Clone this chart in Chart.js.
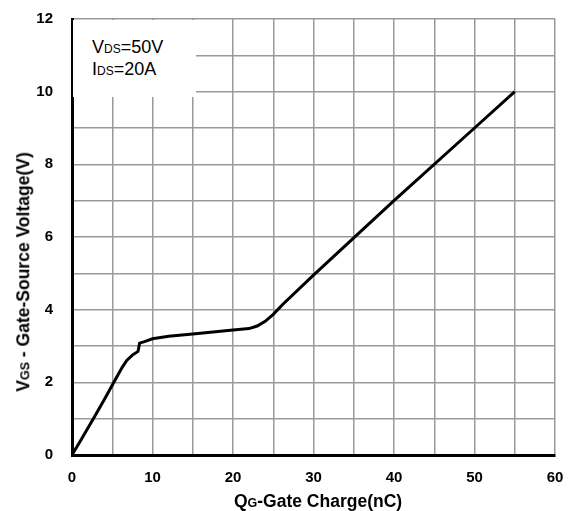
<!DOCTYPE html>
<html>
<head>
<meta charset="utf-8">
<script src="https://cdn.jsdelivr.net/npm/chart.js@4.4.1/dist/chart.umd.min.js"></script>
<style>
  body { margin: 0; background: #fff; }
  #wrap { position: relative; width: 569px; height: 511px; font-family: "Liberation Sans", Arial, sans-serif; }
  #wrap canvas { position: absolute; left: 0; top: 0; }
  .note { position: absolute; left: 73px; top: 20px; width: 123px; height: 77px; background: #fff; }
  .note div { position: absolute; left: 19px; font-size: 18px; line-height: 18px; color: #000; white-space: nowrap; }
  .note span { font-size: 12px; }
  .ttl { position: absolute; font-weight: bold; font-size: 17.5px; line-height: 17.5px; color: #000; white-space: nowrap; }
  .ttl span { font-size: 12.5px; }
  #xTitle { left: 318px; top: 493px; transform: translateX(-50%); }
  #yTitle { left: 25px; top: 272px; transform: translate(-50%, -50%) rotate(-90deg); }
</style>
</head>
<body>
<div id="wrap">
  <canvas id="grafico" width="569" height="511"></canvas>
  <div class="note">
    <div style="top:18px">V<span>DS</span>=50V</div>
    <div style="top:40px">I<span>DS</span>=20A</div>
  </div>
  <div class="ttl" id="xTitle">Q<span>G</span>-Gate Charge(nC)</div>
  <div class="ttl" id="yTitle">V<span>GS</span> - Gate-Source Voltage(V)</div>
</div>
<script>
// carga de compuerta: Qg (nC) contra Vgs (V)
const qgCharge   = [0, 1, 2.65, 4, 5.2, 6.2, 6.8, 7.5, 8.2, 8.4, 9, 10, 12, 15, 20, 22, 23, 24, 25, 26.2, 30, 40, 50, 55];
const vgsVoltage = [0, 0.37, 1.0, 1.52, 2.0, 2.4, 2.6, 2.75, 2.85, 3.08, 3.12, 3.2, 3.27, 3.33, 3.44, 3.48, 3.55, 3.68, 3.87, 4.15, 4.95, 7.0, 9.0, 10.0];

// ejes
const xMax = 60, xStep = 5, xLabelEvery = 10;
const yMax = 12, yStep = 1, yLabelEvery = 2;

const puntos = qgCharge.map((q, i) => ({ x: q, y: vgsVoltage[i] }));

const gridColor = '#999999';
const tickFont = { family: '"Liberation Sans", Arial, sans-serif', size: 15, weight: 'bold' };

new Chart(document.getElementById('grafico').getContext('2d'), {
    type: 'scatter',
    data: {
        datasets: [{
            data: puntos,
            showLine: true,
            borderColor: '#000',
            borderWidth: 3,
            pointRadius: 0,
            tension: 0,
            fill: false
        }]
    },
    options: {
        responsive: false,
        animation: false,
        layout: { padding: { left: 0, top: 19, right: 14, bottom: 0 } },
        plugins: { legend: { display: false }, tooltip: { enabled: false } },
        scales: {
            x: {
                type: 'linear', min: 0, max: xMax,
                // tamaño fijo del eje, sin relleno extra por las etiquetas
                afterFit: (s) => { s.height = 56; s.paddingLeft = 0; s.paddingRight = 0; },
                grid: { color: gridColor, lineWidth: 1.5, drawTicks: false },
                border: { display: true, color: '#000', width: 3 },
                ticks: {
                    stepSize: xStep, autoSkip: false, maxRotation: 0, padding: 14,
                    color: '#000', font: tickFont,
                    callback: (v) => (v % xLabelEvery === 0 ? v : '')
                }
            },
            y: {
                type: 'linear', min: 0, max: yMax,
                afterFit: (s) => { s.width = 72; s.paddingTop = 0; s.paddingBottom = 0; },
                grid: { color: gridColor, lineWidth: 1.5, drawTicks: false },
                border: { display: true, color: '#000', width: 3 },
                ticks: {
                    stepSize: yStep, autoSkip: false, padding: 19,
                    color: '#000', font: tickFont,
                    callback: (v) => (v % yLabelEvery === 0 ? v : '')
                }
            }
        }
    }
});
</script>
</body>
</html>
